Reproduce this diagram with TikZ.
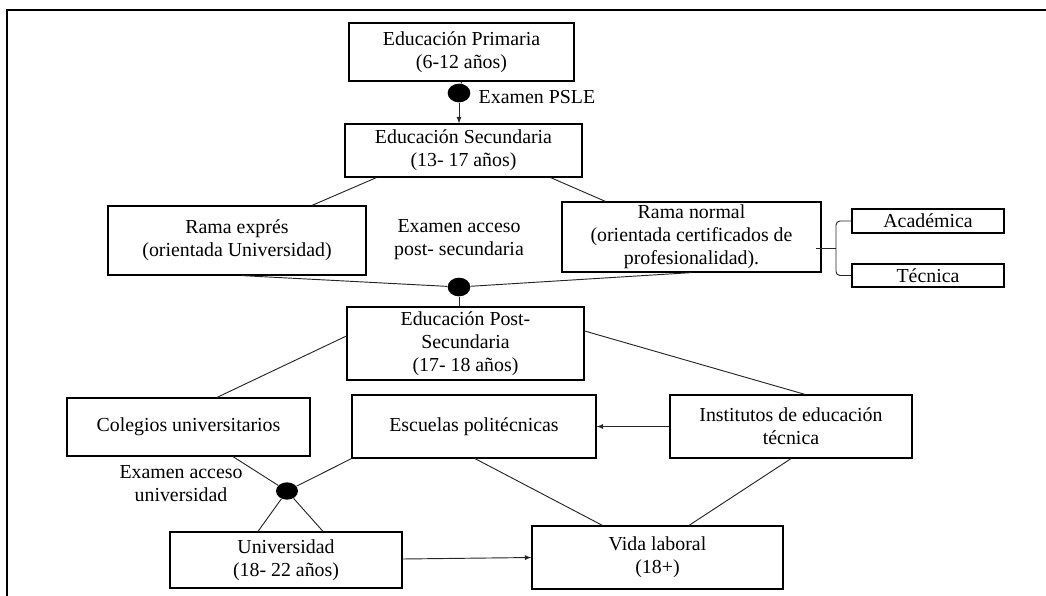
\documentclass[tikz,border=0pt]{standalone}
\usepackage{fontspec}
\setmainfont{Liberation Serif}
\usetikzlibrary{shapes.geometric, calc}

\begin{document}
\begin{tikzpicture}[x=0.75pt, y=-0.75pt,
    every node/.style={font=\fontsize{14.9}{17.3}\selectfont, align=center},
    box/.style={draw, line width=0.9pt, inner sep=0pt},
    dot/.style={ellipse, fill=black, inner sep=0pt, minimum width=17pt, minimum height=14pt},
    link/.style={line width=0.7pt, black!85}]
    \useasboundingbox (0,0) rectangle (1046,596);
    % frame
    \draw[line width=1.3pt] (7,596) -- (7,10) -- (1046,10);
    % primaria y secundaria
    \node[box, minimum width=168.75pt, minimum height=43.5pt] (prim) at (461.5,52) {Educación Primaria\\(6-12 años)};
    \node[dot] (psle) at (459,93) {};
    \node[anchor=west] (pslelbl) at (474,97) {Examen PSLE};
    \node[box, minimum width=177.75pt, minimum height=39.75pt] (sec) at (463.5,150.5) {Educación Secundaria\\(13- 17 años)};
    % ramas
    \node[box, minimum width=193.5pt, minimum height=51.75pt] (express) at (237,240.5) {Rama exprés\\(orientada Universidad)};
    \node[box, minimum width=194.25pt, minimum height=52.5pt] (normal) at (691.5,237) {Rama normal\\(orientada certificados de\\profesionalidad).};
    \node[box, minimum width=114pt, minimum height=18pt] (acad) at (928,221) {Académica};
    \node[box, minimum width=114pt, minimum height=17.25pt] (tec) at (928,275.5) {Técnica};
    \node (postlbl) at (459,240) {Examen acceso\\post- secundaria};
    \node[dot] (postexam) at (459,287) {};
    % post-secundaria
    \node[box, minimum width=177.75pt, minimum height=54.75pt] (post) at (465.5,343.5) {Educación Post-\\Secundaria\\(17- 18 años)};
    \node[box, minimum width=182.25pt, minimum height=43.5pt] (coleg) at (188.5,427) {Colegios universitarios};
    \node[box, minimum width=183pt, minimum height=47.25pt] (poli) at (474,426.5) {Escuelas politécnicas};
    \node[box, minimum width=181.5pt, minimum height=47.25pt] (inst) at (791,426.5) {Institutos de educación\\técnica};
    \node[dot, minimum width=16.5pt, minimum height=13pt] (uniexam) at (287,491) {};
    \node (unilbl) at (181,484) {Examen acceso\\universidad};
    % universidad y trabajo
    \node[box, minimum width=174pt, minimum height=42pt] (univ) at (286,560) {Universidad\\(18- 22 años)};
    \node[box, minimum width=188.25pt, minimum height=47.25pt] (vida) at (657.5,557.5) {Vida laboral\\(18+)};

    % conexiones
    \draw[link] (prim.south) -- (psle);
    \draw[link,-latex] (psle) -- (psle |- sec.north);
    \draw[link] ($(sec.south west)+(32,0)$) -- ($(express.north)+(75,0)$);
    \draw[link] ($(sec.south east)+(-32,0)$) -- ($(normal.north west)+(44,0)$);
    \draw[link] ($(express.south)+(5,0)$) -- (postexam);
    \draw[link] (normal.south) -- (postexam);
    \draw[link] (postexam) -- (postexam |- post.north);
    % llave
    \coordinate (bk) at (836,248);
    \draw[link, rounded corners=3pt] (acad.west) -| (bk) |- (tec.west);
    \draw[link] (bk) -- ++(-20,0);
    % desde post-secundaria
    \draw[link] ($(post.west)+(0,-7.5)$) -- ($(coleg.north)+(28.5,0)$);
    \draw[link] ($(post.south)+(1.5,0)$) -- ($(post.south)+(1.5,0)$ |- poli.north);
    \draw[link] ($(post.east)+(0,-12.5)$) -- ($(inst.north)+(14,0)$);
    \draw[link,-latex] (inst.west) -- (poli.east);
    % examen universidad
    \draw[link] ($(coleg.south)+(44.5,0)$) -- (uniexam);
    \draw[link] (poli.south west) -- (uniexam);
    \draw[link] (uniexam) -- ($(univ.north)+(-28,0)$);
    \draw[link] (uniexam) -- ($(univ.north)+(37,0)$);
    \draw[link,-latex] ($(univ.east)+(0,-1)$) -- (vida.west);
    \draw[link] ($(poli.south)+(1,0)$) -- ($(vida.north west)+(71,0)$);
    \draw[link] (inst.south) -- ($(vida.north)+(31.5,0)$);
\end{tikzpicture}
\end{document}
